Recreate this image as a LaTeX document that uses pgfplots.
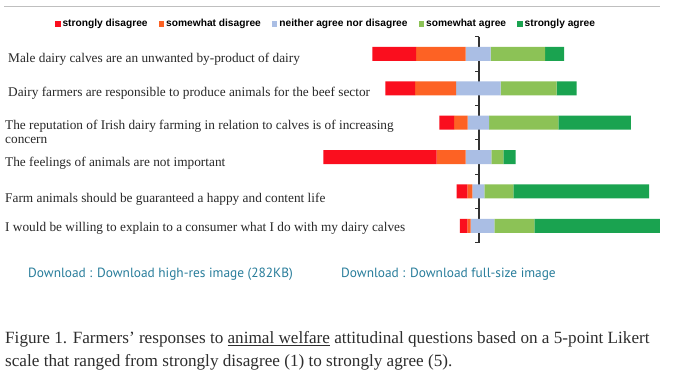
\documentclass[border=0pt]{standalone}
\usepackage{fontspec}
\setmainfont{Liberation Serif}
\newfontfamily\legfont{Liberation Sans}
\newfontfamily\linkfont{PT Sans}
\usepackage{pgfplots}
\pgfplotsset{compat=1.18}
\definecolor{sdis}{RGB}{250,14,30}
\definecolor{mdis}{RGB}{253,98,36}
\definecolor{neut}{RGB}{170,190,228}
\definecolor{magr}{RGB}{140,194,86}
\definecolor{sagr}{RGB}{26,163,80}
\definecolor{linkc}{RGB}{40,125,155}
\definecolor{capc}{RGB}{45,45,45}
\definecolor{labc}{RGB}{40,40,40}
\begin{document}
\begin{tikzpicture}[x=1pt,y=1pt]
\path[use as bounding box] (0,0) rectangle (675,379);
\fill[white] (0,0) rectangle (675,379);
\draw[black!25, line width=1pt] (4,372) -- (660,372);
% x axis: 100 = neutral midpoint (the vertical line); values in percent
\begin{axis}[
  at={(300pt,136pt)}, anchor=south west,
  scale only axis, width=360pt, height=206.3pt,
  xbar stacked, bar width=14pt,
  xmin=6.77, xmax=194.27, ymin=0.5, ymax=6.5, y dir=reverse,
  hide axis,
  legend image code/.code={\fill[#1] (0pt,-2.8pt) rectangle (5.6pt,2.8pt);},
  legend style={at={(0.0722,1.0616)}, anchor=center, draw=none, fill=none,
    legend columns=5, inner sep=0pt,
    font=\legfont\bfseries\fontsize{10.2}{12}\selectfont,
    /tikz/every even column/.append style={column sep=9pt}},
]
\addplot[draw=none, fill=none, forget plot] coordinates {(44.43,1) (51.20,2) (79.32,3) (18.91,4) (88.39,5) (90.10,6)};
\addplot[draw=none, fill=sdis] coordinates {(22.76,1) (15.47,2) (7.66,3) (59.06,4) (5.52,5) (3.80,6)};
\addlegendentry{strongly disagree}
\addplot[draw=none, fill=mdis] coordinates {(25.89,1) (21.35,2) (7.14,3) (15.10,4) (2.60,5) (1.77,6)};
\addlegendentry{somewhat disagree}
\addplot[draw=none, fill=neut] coordinates {(13.02,1) (23.28,2) (11.09,3) (13.33,4) (6.25,5) (12.29,6)};
\addlegendentry{neither agree nor disagree}
\addplot[draw=none, fill=magr] coordinates {(28.28,1) (29.17,2) (36.09,3) (6.25,4) (15.10,5) (20.83,6)};
\addlegendentry{somewhat agree}
\addplot[draw=none, fill=sagr] coordinates {(9.90,1) (10.42,2) (37.86,3) (6.46,4) (70.68,5) (65.47,6)};
\addlegendentry{strongly agree}
\draw[black!80, line width=1.2pt] (axis cs:100,0.5) -- (axis cs:100,6.5);
\draw[black!80, line width=1pt] (axis cs:100,0.5) -- ++(-4pt,0pt);
\draw[black!80, line width=1pt] (axis cs:100,1.5) -- ++(-4pt,0pt);
\draw[black!80, line width=1pt] (axis cs:100,2.5) -- ++(-4pt,0pt);
\draw[black!80, line width=1pt] (axis cs:100,3.5) -- ++(-4pt,0pt);
\draw[black!80, line width=1pt] (axis cs:100,4.5) -- ++(-4pt,0pt);
\draw[black!80, line width=1pt] (axis cs:100,5.5) -- ++(-4pt,0pt);
\draw[black!80, line width=1pt] (axis cs:100,6.5) -- ++(-4pt,0pt);
\end{axis}
\begin{scope}[every node/.style={anchor=base west, inner sep=0pt, text=labc, font=\fontsize{13.3}{15}\selectfont}]
\node at (8,316) {Male dairy calves are an unwanted by-product of dairy};
\node at (8,282) {Dairy farmers are responsible to produce animals for the beef sector};
\node at (5,249.5) {The reputation of Irish dairy farming in relation to calves is of increasing};
\node at (5,235) {concern};
\node at (5,212) {The feelings of animals are not important};
\node at (5,176) {Farm animals should be guaranteed a happy and content life};
\node at (5,147.5) {I would be willing to explain to a consumer what I do with my dairy calves};
\end{scope}
\begin{scope}[every node/.style={anchor=mid west, inner sep=0pt, text=linkc, font=\linkfont\fontsize{13.35}{15}\selectfont}]
\node at (28,104) {Download : Download high-res image (282KB)};
\node at (341,104) {Download : Download full-size image};
\end{scope}
\begin{scope}[every node/.style={anchor=mid west, inner sep=0pt, text=capc, font=\fontsize{17.15}{20}\selectfont}]
\node at (5,38) {Figure 1. Farmers' responses to \underline{animal welfare} attitudinal questions based on a 5-point Likert};
\node at (5,14.5) {scale that ranged from strongly disagree (1) to strongly agree (5).};
\end{scope}
\end{tikzpicture}
\end{document}
